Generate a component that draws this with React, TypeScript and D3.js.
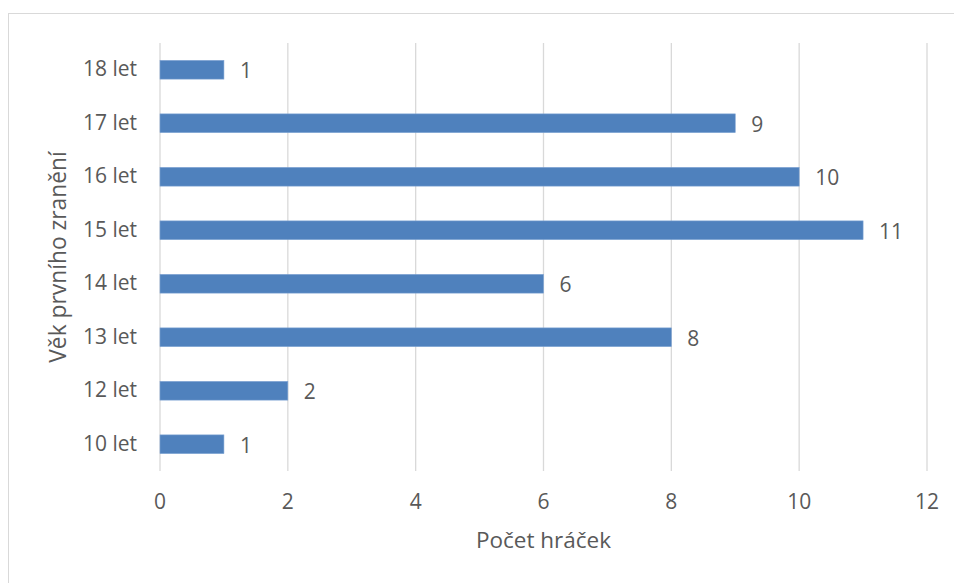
import React from "react";
import * as d3 from "d3";

const categories = ["18 let", "17 let", "16 let", "15 let", "14 let", "13 let", "12 let", "10 let"];
const values = [1, 9, 10, 11, 6, 8, 2, 1];
const xTicks = [0, 2, 4, 6, 8, 10, 12];
const xTitle = "Počet hráček";
const yTitle = "Věk prvního zranění";

const W = 954;
const H = 583;
const plot = { left: 160, right: 927, top: 43, bottom: 471 };
const textColor = "#595959";
const gridColor = "#d9d9d9";
const barColor = "#4f81bd";
const font = "'Open Sans', 'Noto Sans', sans-serif";

export default function App() {
  const x = d3.scaleLinear().domain([0, 12]).range([plot.left, plot.right]);
  const y = d3
    .scaleBand<string>()
    .domain(categories)
    .range([plot.top, plot.bottom])
    .paddingInner(0.65)
    .paddingOuter(0.325);

  return (
    <svg
      width={W}
      height={H}
      style={{ position: "absolute", left: 0, top: 0, background: "#fff" }}
      fontFamily={font}
    >
      <rect x={8.5} y={13.5} width={980} height={620} fill="#fff" stroke={gridColor} strokeWidth={1} />
      {xTicks.map((t) => (
        <g key={t}>
          <line
            x1={x(t)}
            x2={x(t)}
            y1={plot.top}
            y2={plot.bottom}
            stroke={gridColor}
            strokeWidth={1.3}
          />
          <text x={x(t)} y={509} textAnchor="middle" fontSize={21} fill={textColor}>
            {t}
          </text>
        </g>
      ))}
      {categories.map((c, i) => {
        const yc = (y(c) as number) + y.bandwidth() / 2;
        return (
          <g key={c}>
            <rect
              x={x(0)}
              y={y(c)}
              width={x(values[i]) - x(0)}
              height={y.bandwidth()}
              fill={barColor}
              stroke="#7ea3d3"
              strokeWidth={0.6}
            />
            <text x={137} y={yc + 6.5} textAnchor="end" fontSize={21} fill={textColor}>
              {c}
            </text>
            <text x={x(values[i]) + 16} y={yc + 8.5} textAnchor="start" fontSize={21} fill={textColor}>
              {values[i]}
            </text>
          </g>
        );
      })}
      <text x={(plot.left + plot.right) / 2} y={548} textAnchor="middle" fontSize={22.5} fill={textColor}>
        {xTitle}
      </text>
      <text
        transform={`translate(66, ${(plot.top + plot.bottom) / 2}) rotate(-90)`}
        textAnchor="middle"
        fontSize={22.8}
        fill={textColor}
      >
        {yTitle}
      </text>
    </svg>
  );
}
